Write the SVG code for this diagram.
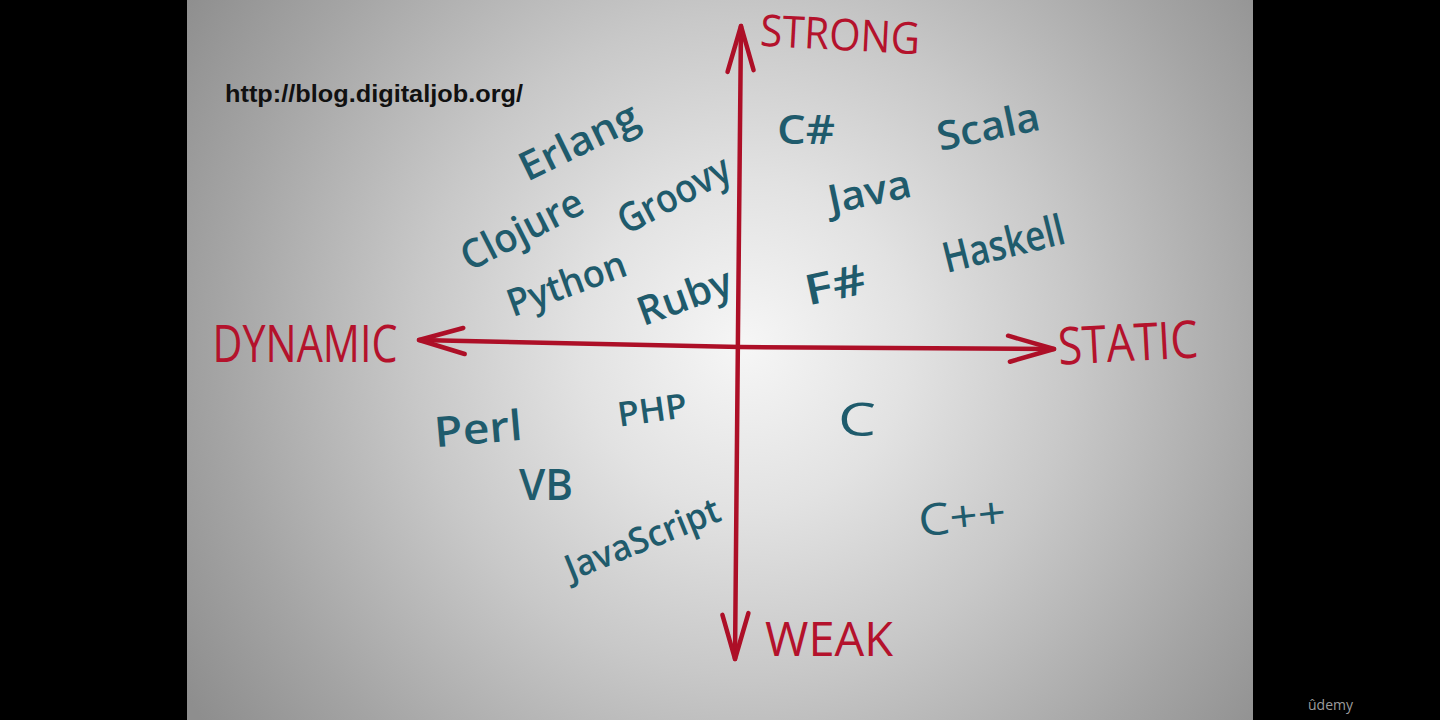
<svg xmlns="http://www.w3.org/2000/svg" width="1440" height="720" viewBox="0 0 1440 720">
  <defs>
    <radialGradient id="bg" gradientUnits="userSpaceOnUse" cx="745" cy="345" r="660">
      <stop offset="0" stop-color="#f6f6f6"/>
      <stop offset="0.25" stop-color="#e2e2e2"/>
      <stop offset="0.5" stop-color="#c8c8c8"/>
      <stop offset="0.8" stop-color="#a4a4a4"/>
      <stop offset="1" stop-color="#8e8e8e"/>
    </radialGradient>
    <marker id="chev" markerUnits="userSpaceOnUse" viewBox="-55 -20 60 40" markerWidth="60" markerHeight="40" refX="0" refY="0" orient="auto-start-reverse" overflow="visible">
      <path d="M-46,-13 L0,0 L-44,13" fill="none" stroke="#ad0f27" stroke-width="4.5" stroke-linecap="round" stroke-linejoin="round"/>
    </marker>
  </defs>
  <style>
    .axis { fill: none; stroke: #ad0f27; stroke-width: 4.5; stroke-linecap: round; }
    .ax { font-family: "Open Sans", "DejaVu Sans", sans-serif; fill: #b4122c; font-weight: 400; text-anchor: middle; }
    .lang { font-family: "Open Sans", "DejaVu Sans", sans-serif; fill: #1f5b6c; font-weight: 600; dominant-baseline: central; text-anchor: middle; }
    .url { font-family: "Liberation Sans", Arial, sans-serif; font-weight: 700; fill: #111; }
  </style>
  <rect x="0" y="0" width="1440" height="720" fill="#000"/>
  <rect x="187" y="0" width="1066" height="720" fill="url(#bg)"/>

  <g id="connectors">
    <path id="axis-vertical" class="axis" d="M741,26 L738,330 L735,659" marker-start="url(#chev)" marker-end="url(#chev)"/>
    <path id="axis-horizontal" class="axis" d="M419,340 L740,347 L1054,349" marker-start="url(#chev)" marker-end="url(#chev)"/>
  </g>

  <g id="source"><text class="url" x="225" y="102" font-size="24" textLength="298" lengthAdjust="spacingAndGlyphs">http://blog.digitaljob.org/</text></g>

  <g id="strong"><text class="ax" x="840" y="50" font-size="44" textLength="160" lengthAdjust="spacingAndGlyphs" transform="rotate(3 840 36)">STRONG</text></g>
  <g id="dynamic"><text class="ax" x="305" y="362" font-size="52" textLength="185" lengthAdjust="spacingAndGlyphs">DYNAMIC</text></g>
  <g id="static"><text class="ax" x="1128" y="361" font-size="52" textLength="140" lengthAdjust="spacingAndGlyphs" transform="rotate(-3 1128 342)">STATIC</text></g>
  <g id="weak"><text class="ax" x="829" y="656" font-size="48" textLength="128" lengthAdjust="spacingAndGlyphs">WEAK</text></g>

  <g id="erlang"><text class="lang" x="578" y="140" font-size="40" textLength="128" lengthAdjust="spacingAndGlyphs" transform="rotate(-26 578 140)">Erlang</text></g>
  <g id="clojure"><text class="lang" x="521" y="228" font-size="40" textLength="132" lengthAdjust="spacingAndGlyphs" transform="rotate(-27 521 228)">Clojure</text></g>
  <g id="groovy"><text class="lang" x="673" y="193" font-size="40" textLength="122" lengthAdjust="spacingAndGlyphs" transform="rotate(-28 673 193)">Groovy</text></g>
  <g id="python"><text class="lang" x="566" y="282" font-size="38" textLength="124" lengthAdjust="spacingAndGlyphs" transform="rotate(-20 566 282)">Python</text></g>
  <g id="ruby"><text class="lang" x="684" y="295" font-size="40" textLength="98" lengthAdjust="spacingAndGlyphs" transform="rotate(-20 684 295)">Ruby</text></g>

  <g id="csharp"><text class="lang" x="806" y="128" font-size="40" textLength="58" lengthAdjust="spacingAndGlyphs">C#</text></g>
  <g id="scala"><text class="lang" x="988" y="125" font-size="40" textLength="104" lengthAdjust="spacingAndGlyphs" transform="rotate(-12 988 125)">Scala</text></g>
  <g id="java"><text class="lang" x="869" y="190" font-size="40" textLength="84" lengthAdjust="spacingAndGlyphs" transform="rotate(-12 869 190)">Java</text></g>
  <g id="haskell"><text class="lang" x="1003" y="242" font-size="42" textLength="124" lengthAdjust="spacingAndGlyphs" transform="rotate(-14 1003 242)">Haskell</text></g>
  <g id="fsharp"><text class="lang" x="835" y="283" font-size="42" textLength="62" lengthAdjust="spacingAndGlyphs" transform="rotate(-12 835 283)">F#</text></g>

  <g id="perl"><text class="lang" x="478" y="427" font-size="42" textLength="88" lengthAdjust="spacingAndGlyphs" transform="rotate(-5 478 427)">Perl</text></g>
  <g id="php"><text class="lang" x="652" y="409" font-size="34" textLength="70" lengthAdjust="spacingAndGlyphs" transform="rotate(-8 652 409)">PHP</text></g>
  <g id="vb"><text class="lang" x="546" y="483" font-size="44" textLength="54" lengthAdjust="spacingAndGlyphs">VB</text></g>
  <g id="javascript"><text class="lang" x="642" y="538" font-size="36" textLength="164" lengthAdjust="spacingAndGlyphs" transform="rotate(-22 642 538)">JavaScript</text></g>

  <g id="c"><text class="lang" x="857" y="418" font-size="46" style="font-weight:400" textLength="38" lengthAdjust="spacingAndGlyphs">C</text></g>
  <g id="cpp"><text class="lang" x="962" y="515" font-size="44" style="font-weight:400" textLength="88" lengthAdjust="spacingAndGlyphs" transform="rotate(-6 962 515)">C++</text></g>

  <g id="logo"><text x="1308" y="710" font-family="Open Sans, DejaVu Sans, sans-serif" font-size="14" fill="#9c9c9c">ûdemy</text></g>
</svg>
